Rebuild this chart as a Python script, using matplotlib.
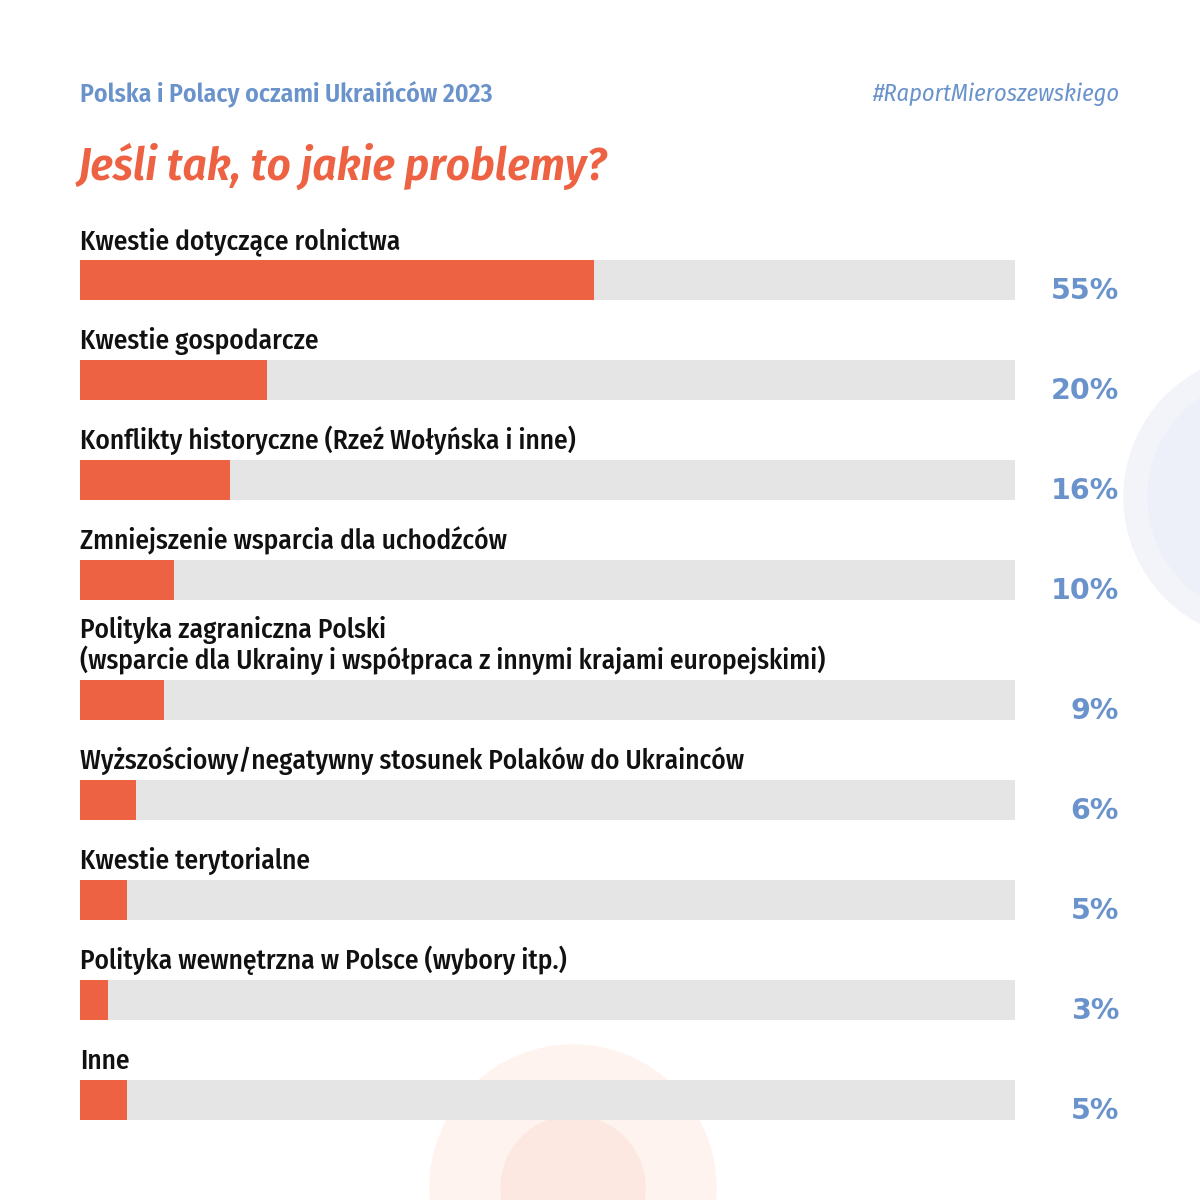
"""Polska i Polacy oczami Ukraińców 2023 - wykres słupkowy"""

import matplotlib
matplotlib.use("Agg")
import matplotlib.pyplot as plt
from matplotlib.patches import Circle

# dane
labels = [
    "Kwestie dotyczące rolnictwa",
    "Kwestie gospodarcze",
    "Konflikty historyczne (Rzeź Wołyńska i inne)",
    "Zmniejszenie wsparcia dla uchodźców",
    "Polityka zagraniczna Polski\n(wsparcie dla Ukrainy i współpraca z innymi krajami europejskimi)",
    "Wyższościowy/negatywny stosunek Polaków do Ukrainców",
    "Kwestie terytorialne",
    "Polityka wewnętrzna w Polsce (wybory itp.)",
    "Inne",
]
values = [55, 20, 16, 10, 9, 6, 5, 3, 5]

subtitle = "Polska i Polacy oczami Ukraińców 2023"
hashtag = "#RaportMieroszewskiego"
title = "Jeśli tak, to jakie problemy?"

ORANGE = "#ED6242"
GRAY = "#E5E5E5"
BLUE = "#6A93CB"
COND = ["Fira Sans Condensed", "DejaVu Sans"]
PCT = ["DejaVu Sans"]

fig = plt.figure(figsize=(12, 12), dpi=100)
fig.patch.set_facecolor("white")

# tło w pikselach
bg = fig.add_axes([0, 0, 1, 1])
bg.set_xlim(0, 1200)
bg.set_ylim(1200, 0)
bg.axis("off")
bg.add_patch(Circle((1267, 497), 143, color="#F3F4FA", zorder=0))
bg.add_patch(Circle((1267, 497), 119, color="#EDF0F9", zorder=0))
bg.add_patch(Circle((573, 1188), 143, color="#FEF3EE", zorder=0))
bg.add_patch(Circle((573, 1188), 72, color="#FCE8E1", zorder=0))

bg.text(80, 101, subtitle, color=BLUE, fontsize=18.5, fontweight="semibold",
        family=COND, ha="left", va="baseline")
bg.text(1119, 101, hashtag, color=BLUE, fontsize=17.5, fontstyle="italic",
        family=COND, ha="right", va="baseline")
bg.text(78, 180, title, color=ORANGE, fontsize=33.5, fontweight="semibold",
        fontstyle="italic", family=COND, ha="left", va="baseline")

# słupki
ax = fig.add_axes([80 / 1200, 0, 935 / 1200, 1])
ax.set_xlim(0, 100)
ax.set_ylim(1200, 0)
ax.axis("off")
ax.patch.set_alpha(0)

top = 260
for label, val in zip(labels, values):
    n_lines = label.count("\n") + 1
    top += 20 * (n_lines - 1)
    ax.barh(top + 20, 100, height=40, color=GRAY, zorder=1)
    ax.barh(top + 20, val, height=40, color=ORANGE, zorder=2)
    ax.text(0, top - 11, label, fontsize=19.7, fontweight="medium", family=COND,
            color="#111111", ha="left", va="baseline", linespacing=1.05)
    bg.text(1119, top + 39, f"{val}%", fontsize=20.5, fontweight="bold",
            family=PCT, color=BLUE, ha="right", va="baseline")
    top += 100

plt.savefig("out.png", dpi=100, facecolor="white")
plt.close(fig)
